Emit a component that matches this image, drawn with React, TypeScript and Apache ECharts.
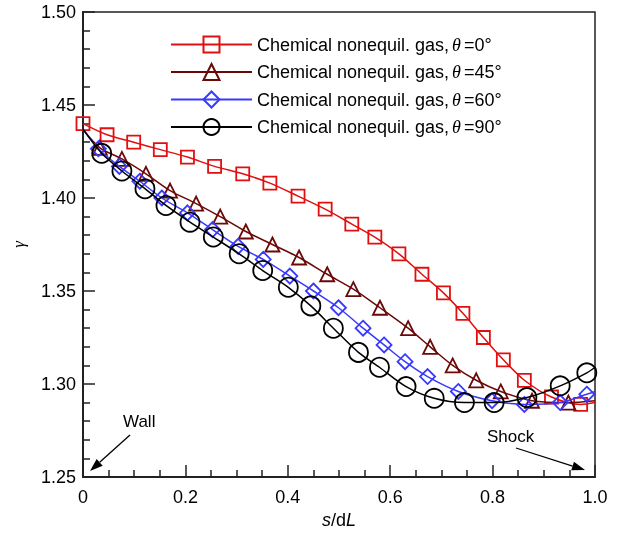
import React, { useEffect, useRef } from "react";
import * as echarts from "echarts";

const seriesNames = [
  "Chemical nonequil. gas,θ=0°",
  "Chemical nonequil. gas,θ=45°",
  "Chemical nonequil. gas,θ=60°",
  "Chemical nonequil. gas,θ=90°",
];

const redX = [0, 0.047, 0.099, 0.151, 0.204, 0.257, 0.312, 0.365, 0.42, 0.473, 0.525, 0.57, 0.617, 0.662, 0.704, 0.742, 0.782, 0.821, 0.862, 0.915, 0.972, 1.0];
const redY = [1.44, 1.434, 1.43, 1.426, 1.422, 1.417, 1.413, 1.408, 1.401, 1.394, 1.386, 1.379, 1.37, 1.359, 1.349, 1.338, 1.325, 1.313, 1.302, 1.293, 1.289, 1.29];

const brownX = [0, 0.033, 0.076, 0.123, 0.17, 0.221, 0.268, 0.318, 0.37, 0.422, 0.477, 0.528, 0.58, 0.635, 0.678, 0.722, 0.768, 0.816, 0.877, 0.948, 1.0];
const brownY = [1.437, 1.427, 1.421, 1.413, 1.404, 1.397, 1.39, 1.382, 1.375, 1.368, 1.359, 1.351, 1.341, 1.33, 1.32, 1.31, 1.302, 1.296, 1.291, 1.29, 1.291];

const blueX = [0, 0.03, 0.071, 0.111, 0.154, 0.204, 0.253, 0.303, 0.352, 0.404, 0.45, 0.499, 0.547, 0.588, 0.629, 0.673, 0.733, 0.799, 0.862, 0.932, 0.984, 1.0];
const blueY = [1.437, 1.4265, 1.417, 1.409, 1.4, 1.392, 1.383, 1.374, 1.367, 1.358, 1.35, 1.341, 1.33, 1.321, 1.312, 1.304, 1.296, 1.291, 1.289, 1.29, 1.2945, 1.296];

const blackX = [0, 0.0365, 0.076, 0.121, 0.162, 0.209, 0.2545, 0.305, 0.351, 0.401, 0.445, 0.489, 0.538, 0.579, 0.631, 0.686, 0.745, 0.803, 0.867, 0.932, 0.984, 1.0];
const blackY = [1.437, 1.424, 1.4145, 1.405, 1.396, 1.387, 1.379, 1.37, 1.361, 1.352, 1.342, 1.33, 1.317, 1.309, 1.2986, 1.2923, 1.29, 1.29, 1.2927, 1.299, 1.306, 1.309];

const SANS = "Liberation Sans, Arial, sans-serif";
const SERIF = "Liberation Serif, Times New Roman, serif";

function build(xs: number[], ys: number[], markerAtStart: boolean) {
  return xs.map((x, i) => {
    const item: any = { value: [x, ys[i]] };
    const isEnd = i === xs.length - 1 && x >= 1;
    const isStart = i === 0 && !markerAtStart;
    if (isEnd || isStart) item.symbol = "none";
    return item;
  });
}

function arrow(x1: number, y1: number, x2: number, y2: number) {
  const ang = Math.atan2(y2 - y1, x2 - x1);
  const L = 13;
  const W = 4.5;
  const bx = x2 - L * Math.cos(ang);
  const by = y2 - L * Math.sin(ang);
  const px = -Math.sin(ang);
  const py = Math.cos(ang);
  return [
    { type: "line", shape: { x1, y1, x2: bx, y2: by }, style: { stroke: "#000", lineWidth: 1.3 }, silent: true },
    {
      type: "polygon",
      shape: { points: [[x2, y2], [bx + px * W, by + py * W], [bx - px * W, by - py * W]] },
      style: { fill: "#000" },
      silent: true,
    },
  ];
}

export default function App() {
  const ref = useRef<HTMLDivElement>(null);
  useEffect(() => {
    if (!ref.current) return;
    const chart = echarts.init(ref.current, undefined, { renderer: "svg" });
    const colors = ["#e01010", "#6b0808", "#3838ff", "#000000"];
    const symbols = ["rect", "triangle", "diamond", "circle"];
    const sizes = [13, 14, 15, 19];
    const datas = [
      build(redX, redY, true),
      build(brownX, brownY, false),
      build(blueX, blueY, false),
      build(blackX, blackY, false),
    ];
    const series = datas.map((d, i) => ({
      name: seriesNames[i],
      type: "line",
      data: d,
      smooth: 0.3,
      symbol: symbols[i],
      symbolSize: sizes[i],
      showAllSymbol: true,
      clip: false,
      lineStyle: { color: colors[i], width: 1.5 },
      itemStyle: { color: "rgba(0,0,0,0)", borderColor: colors[i], borderWidth: 1.8 },
      emphasis: { disabled: true },
      z: 2 + i,
    }));

    chart.setOption({
      animation: false,
      grid: {
        left: 83,
        right: 22,
        top: 12,
        bottom: 57,
        show: true,
        borderColor: "#222",
        borderWidth: 1.5,
        backgroundColor: "transparent",
      },
      legend: {
        orient: "vertical",
        left: 165,
        top: 30.5,
        itemWidth: 81,
        itemHeight: 20,
        itemGap: 9.5,
        data: seriesNames,
        textStyle: {
          fontFamily: SANS,
          fontSize: 18,
          color: "#000",
          rich: {
            t: { fontFamily: SERIF, fontStyle: "italic", fontSize: 18, color: "#000", padding: [0, 3, 0, 3] },
          },
        },
        formatter: (name: string) => name.replace("θ", "{t|θ}"),
      },
      xAxis: {
        type: "value",
        min: 0,
        max: 1,
        interval: 0.2,
        name: "{i|s}/d{i|L}",
        nameLocation: "middle",
        nameGap: 33,
        nameTextStyle: {
          fontFamily: SANS,
          fontSize: 18,
          color: "#000",
          rich: { i: { fontFamily: SANS, fontStyle: "italic", fontSize: 18, color: "#000" } },
        },
        axisLine: { show: true, lineStyle: { color: "#222", width: 2 } },
        axisTick: { show: true, inside: true, length: 12, lineStyle: { color: "#222", width: 1.5 } },
        minorTick: { show: true, splitNumber: 4, length: 7, lineStyle: { color: "#222", width: 1.5 } },
        splitLine: { show: false },
        axisLabel: {
          fontFamily: SANS,
          fontSize: 18,
          color: "#000",
          margin: 11,
          formatter: (v: number) => (v === 0 ? "0" : v.toFixed(1)),
        },
      },
      yAxis: {
        type: "value",
        min: 1.25,
        max: 1.5,
        interval: 0.05,
        name: "γ",
        nameLocation: "middle",
        nameGap: 56,
        nameRotate: 90,
        nameTextStyle: { fontFamily: SERIF, fontStyle: "italic", fontSize: 17, color: "#000" },
        axisLine: { show: true, lineStyle: { color: "#222", width: 2 } },
        axisTick: { show: true, inside: true, length: 12, lineStyle: { color: "#222", width: 1.5 } },
        minorTick: { show: true, splitNumber: 5, length: 7, lineStyle: { color: "#222", width: 1.5 } },
        splitLine: { show: false },
        axisLabel: {
          fontFamily: SANS,
          fontSize: 18,
          color: "#000",
          margin: 7,
          padding: [7, 0, 0, 0],
          formatter: (v: number) => v.toFixed(2),
        },
      },
      graphic: [
        { type: "text", left: 123, top: 413, style: { text: "Wall", fontFamily: SANS, fontSize: 17, fill: "#000" }, silent: true },
        { type: "text", left: 487, top: 428, style: { text: "Shock", fontFamily: SANS, fontSize: 17, fill: "#000" }, silent: true },
        ...arrow(130, 435, 90, 471),
        ...arrow(516, 448, 585, 470),
      ],
      series,
    });
    return () => chart.dispose();
  }, []);
  return <div ref={ref} style={{ position: "fixed", left: 0, top: 0, width: 617, height: 534 }} />;
}
